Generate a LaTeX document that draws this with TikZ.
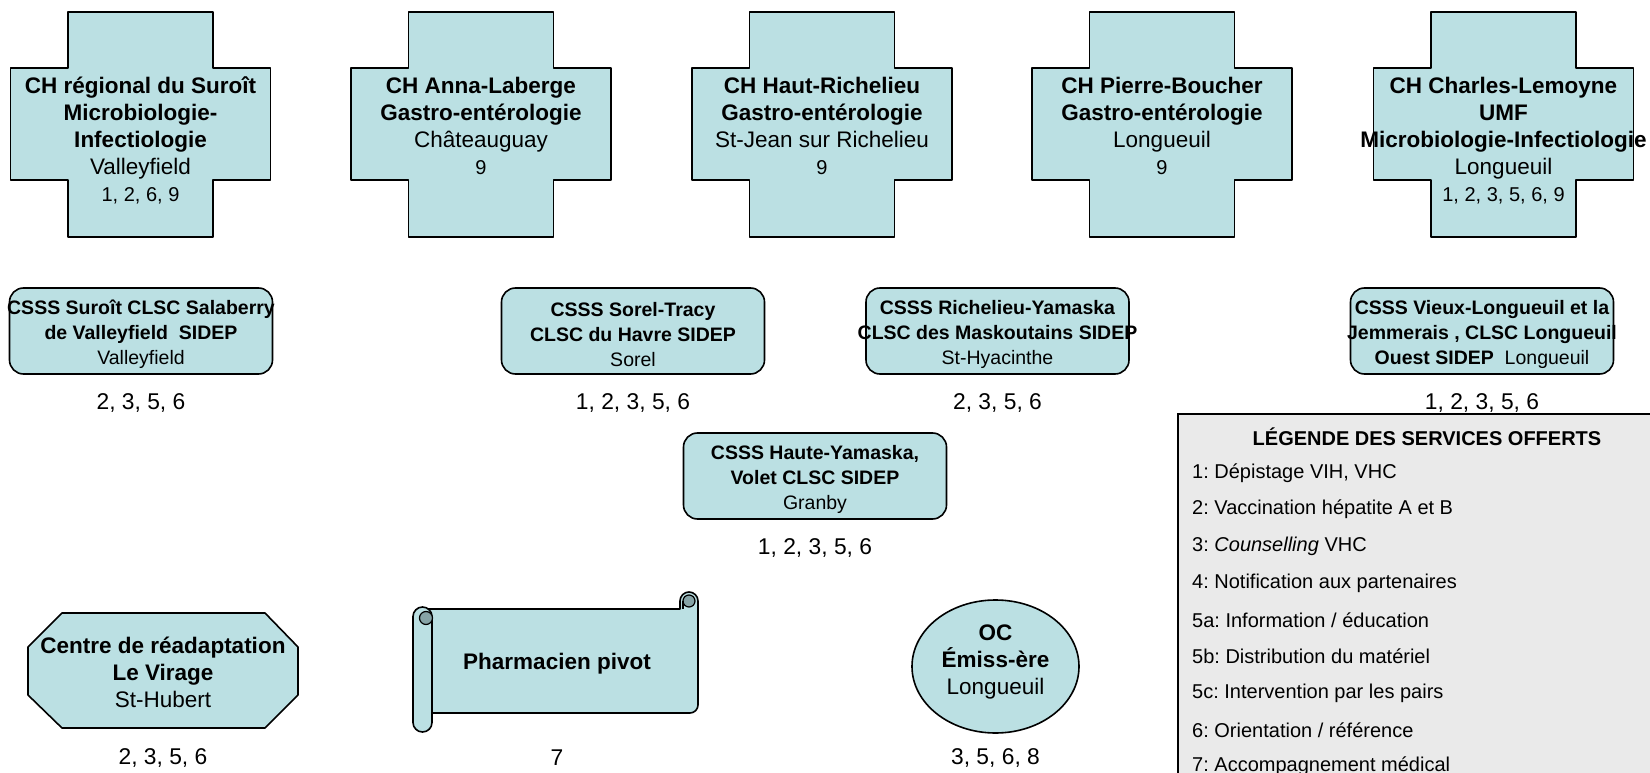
\documentclass[tikz,border=0pt]{standalone}
\usepackage{fontspec}
\setmainfont{Liberation Sans}
\frenchspacing

\definecolor{shapeblue}{RGB}{187,224,227}
\definecolor{rolldark}{RGB}{134,163,166}
\definecolor{legendgray}{RGB}{234,234,234}

\tikzset{
  shapeline/.style={fill=shapeblue, draw=black, line width=1.6pt, line join=round},
  crosstext/.style={anchor=north, inner sep=0pt, align=center, font=\fontsize{22.5}{27}\selectfont},
  cssstext/.style={inner sep=0pt, align=center, font=\fontsize{19.5}{25}\selectfont},
  bigtext/.style={inner sep=0pt, align=center, font=\fontsize{22.5}{27}\selectfont},
  numtext/.style={inner sep=0pt, font=\fontsize{22.8}{25}\selectfont},
  legtext/.style={anchor=west, inner sep=0pt, font=\fontsize{20}{24}\selectfont},
}
\newcommand{\crossnum}{\fontsize{20}{27}\selectfont}

\begin{document}
\begin{tikzpicture}[x=1pt, y=-1pt]
  \useasboundingbox (0,0) rectangle (1650,773);
  \clip (0,0) rectangle (1650,773);
  % hospitals (crosses)
  \foreach \cx in {140.5, 481, 822, 1162, 1503.5}
    \filldraw[shapeline] (\cx-72.5,12) -- ++(145,0) -- ++(0,56) -- ++(57.5,0) -- ++(0,112) -- ++(-57.5,0) -- ++(0,57) -- ++(-145,0) -- ++(0,-57) -- ++(-57.5,0) -- ++(0,-112) -- ++(57.5,0) -- cycle;
  \node[crosstext] (suroit) at (140.5,77) {\textbf{CH régional du Suroît}\\\textbf{Microbiologie-}\\\textbf{Infectiologie}\\Valleyfield\\{\crossnum 1, 2, 6, 9}};
  \node[crosstext] (laberge) at (481,77) {\textbf{CH Anna-Laberge}\\\textbf{Gastro-entérologie}\\Châteauguay\\{\crossnum 9}};
  \node[crosstext] (hautrich) at (822,77) {\textbf{CH Haut-Richelieu}\\\textbf{Gastro-entérologie}\\St-Jean sur Richelieu\\{\crossnum 9}};
  \node[crosstext] (boucher) at (1162,77) {\textbf{CH Pierre-Boucher}\\\textbf{Gastro-entérologie}\\Longueuil\\{\crossnum 9}};
  \node[crosstext] (lemoyne) at (1503.5,77) {\textbf{CH Charles-Lemoyne}\\\textbf{UMF}\\\textbf{Microbiologie-Infectiologie}\\Longueuil\\{\crossnum 1, 2, 3, 5, 6, 9}};

  % CSSS boxes
  \foreach \bx/\by in {141/331, 633/331, 997.5/331, 1482/331, 815/476}
    \filldraw[shapeline, rounded corners=14] (\bx-131.5,\by-43) rectangle (\bx+131.5,\by+43);
  \node[cssstext] (salaberry) at (141,334.5) {\textbf{CSSS Suroît CLSC Salaberry}\\\textbf{de Valleyfield\ \ SIDEP}\\Valleyfield};
  \node[cssstext] (sorel) at (633,334.5) {\textbf{CSSS Sorel-Tracy}\\\textbf{CLSC du Havre SIDEP}\\Sorel};
  \node[cssstext] (maskoutains) at (997.5,334.5) {\textbf{CSSS Richelieu-Yamaska}\\\textbf{CLSC des Maskoutains SIDEP}\\St-Hyacinthe};
  \node[cssstext] (vieuxlong) at (1482,334.5) {\textbf{CSSS Vieux-Longueuil et la}\\\textbf{Jemmerais , CLSC Longueuil}\\\textbf{Ouest SIDEP}\ \ Longueuil};
  \node[cssstext] (granby) at (815,479.5) {\textbf{CSSS Haute-Yamaska,}\\\textbf{Volet CLSC SIDEP}\\Granby};
  \node[numtext] (salaberrynum) at (141,403) {2, 3, 5, 6};
  \node[numtext] (sorelnum) at (633,403) {1, 2, 3, 5, 6};
  \node[numtext] (maskoutainsnum) at (997.5,403) {2, 3, 5, 6};
  \node[numtext] (vieuxlongnum) at (1482,403) {1, 2, 3, 5, 6};
  \node[numtext] (granbynum) at (815,548) {1, 2, 3, 5, 6};

  % legend
  \filldraw[fill=legendgray, draw=black, line width=1.6pt] (1178,414) rectangle (1680,800);
  \node[inner sep=0pt, font=\fontsize{20}{24}\selectfont\bfseries] (legtitle) at (1427,437) {LÉGENDE DES SERVICES OFFERTS};
  \foreach \t [count=\i from 0] in {{1: Dépistage VIH, VHC}, {2: Vaccination hépatite A et B}, {3: \textit{Counselling} VHC}, {4: Notification aux partenaires}, {5a: Information / éducation}, {5b: Distribution du matériel}, {5c: Intervention par les pairs}, {6: Orientation / référence}, {7: Accompagnement médical}}
    \node[legtext] (leg\i) at (1192,473+36.7*\i) {\t};

  % Centre de readaptation (octagon)
  \filldraw[shapeline] (62,613) -- (265,613) -- (298,647) -- (298,695) -- (265,728) -- (62,728) -- (28,695) -- (28,647) -- cycle;
  \node[bigtext] (virage) at (163,672) {\textbf{Centre de réadaptation}\\\textbf{Le Virage}\\St-Hubert};
  \node[numtext] (viragenum) at (163,758) {2, 3, 5, 6};

  % pharmacien (scroll)
  \filldraw[shapeline] (423,609) -- (680,609) -- (680,601) arc (180:360:9) -- (698,705) arc (0:90:8) -- (423,713) -- cycle;
  \filldraw[fill=rolldark, draw=black, line width=1.2pt] (689,601) circle (6);
  \draw[line width=1.2pt] (683,601) -- (683,609);
  \filldraw[shapeline, rounded corners=9.5] (413,607) rectangle (432,732);
  \filldraw[fill=rolldark, draw=black, line width=1.2pt] (426,618) circle (6.5);
  \node[bigtext] (pharmacien) at (557,664) {\textbf{Pharmacien pivot}};
  \node[numtext] (pharmaciennum) at (557,758) {7};

  % organisme communautaire (ellipse)
  \filldraw[shapeline] (995.5,666.5) ellipse (83.5 and 66.5);
  \node[bigtext] (emissere) at (995.5,662) {\textbf{OC}\\\textbf{Émiss-ère}\\Longueuil};
  \node[numtext] (emisserenum) at (995.5,758) {3, 5, 6, 8};
\end{tikzpicture}
\end{document}
